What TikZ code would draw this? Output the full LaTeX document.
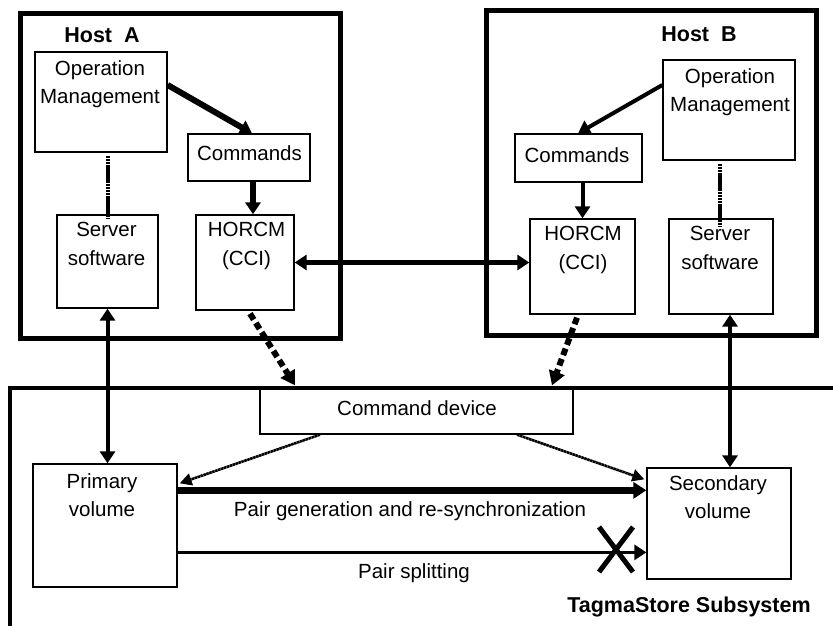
\documentclass[tikz,border=0pt]{standalone}
\usepackage{fontspec}
\setmainfont{Liberation Sans}
\usetikzlibrary{arrows.meta,calc}
\begin{document}
\begin{tikzpicture}[x=1pt,y=-1pt,
  box/.style={draw,line width=1.3pt,inner sep=0pt,rectangle},
  host/.style={draw,line width=5pt,inner sep=0pt,rectangle},
  txt/.style={inner sep=0pt,anchor=north,align=center,font={\fontsize{20.5}{28.5}\selectfont}},
  btxt/.style={inner sep=0pt,anchor=base,font={\fontsize{21.5}{24}\selectfont\bfseries}},
  arr/.style={line width=#1,-{Triangle[length=12pt,width=15pt]}},
  dbl/.style={line width=#1,{Triangle[length=12pt,width=15pt]}-{Triangle[length=12pt,width=15pt]}},
  dotline/.style={line width=4pt,dash pattern=on 2.6pt off 0.5pt},
  dasharr/.style={line width=6pt,dash pattern=on 7pt off 4pt,-{Triangle[length=14pt,width=16pt]}},
  dotarr/.style={line width=2.6pt,dash pattern=on 2.6pt off 0.5pt,-{Triangle[length=12pt,width=12pt]}}
]
\useasboundingbox (0,0) rectangle (833,626);

% hosts
\node[host,minimum width=320pt,minimum height=324pt] (hostA) at (180,176) {};
\node[host,minimum width=330pt,minimum height=324pt] (hostB) at (651,173) {};
\node[btxt] (hostAl) at (102,43) {Host~~A};
\node[btxt] (hostBl) at (699,42) {Host~~B};

% subsystem
\node[box,minimum width=313pt,minimum height=46pt] (cmdDev) at (416.5,411) {};
\coordinate (subBL) at (10,626);
\coordinate (subTL) at (10,388);
\coordinate (subTR) at (833,388);
\draw[line width=4pt] (subBL) -- (subTL) -- (subTR);
\node[btxt] (subl) at (689,612) {TagmaStore Subsystem};

% boxes
\node[box,minimum width=132pt,minimum height=100pt] (opA) at (101,102) {};
\node[box,minimum width=122pt,minimum height=47pt] (cmdA) at (249,157.5) {};
\node[box,minimum width=101pt,minimum height=93pt] (srvA) at (107.5,261.5) {};
\node[box,minimum width=98pt,minimum height=95pt] (hoA) at (245,262.5) {};
\node[box,minimum width=132pt,minimum height=100pt] (opB) at (729,110) {};
\node[box,minimum width=127pt,minimum height=48pt] (cmdB) at (578.5,158) {};
\node[box,minimum width=105pt,minimum height=95pt] (hoB) at (582.5,266.5) {};
\node[box,minimum width=104pt,minimum height=95pt] (srvB) at (721,266.5) {};
\node[box,minimum width=144pt,minimum height=123pt] (pv) at (105,525.5) {};
\node[box,minimum width=144pt,minimum height=111pt] (sv) at (719,523.5) {};

% texts
\node[txt] (opAt) at (100,60) {Operation\\Management};
\node[txt] (cmdAt) at (249.5,145) {Commands};
\node[txt] (srvAt) at (106.5,222) {Server\\software};
\node[txt] (hoAt) at (246.5,222) {HORCM\\(CCI)};
\node[txt] (opBt) at (730,68) {Operation\\Management};
\node[txt] (cmdBt) at (577,147) {Commands};
\node[txt] (hoBt) at (583,226) {HORCM\\(CCI)};
\node[txt] (srvBt) at (720,226) {Server\\software};
\node[txt] (pvt) at (102,473) {Primary\\volume};
\node[txt] (svt) at (718,475) {Secondary\\volume};
\node[txt] (cmdDevt) at (417,400) {Command device};
\node[txt] (pairgen) at (410,501) {Pair generation and re-synchronization};
\node[txt] (pairsplit) at (414,563) {Pair splitting};

% connectors in host A
\draw[arr=6pt] ([yshift=17pt]opA.east) -- ([xshift=3pt]cmdA.north);
\draw[arr=5.5pt] ([xshift=4pt]cmdA.south) -- ([xshift=4pt]cmdA.south |- hoA.north);
\draw[dotline] ([yshift=-3pt]srvA.north |- opA.south) -- ([yshift=-5pt]srvA.north);

% between hosts
\draw[dbl=5pt] (hoA.east) -- (hoA.east -| hoB.west);

% connectors in host B
\draw[arr=4pt] ([yshift=25pt]opB.west) -- ([xshift=-0.5pt]cmdB.north);
\draw[arr=4pt] (cmdB.south -| hoB.north) -- (hoB.north);
\draw[dotline] ([xshift=-1pt,yshift=-3pt]srvB.north |- opB.south) -- ([xshift=-1pt,yshift=-9pt]srvB.north);

% hosts to subsystem
\draw[dbl=4pt] (srvA.south) -- (srvA.south |- pv.north);
\draw[dbl=4pt] ([xshift=9pt]srvB.south) -- ([xshift=9pt]srvB.south |- sv.north);
\draw[dasharr] ([xshift=5pt,yshift=-3pt]hoA.south) -- ([xshift=-121.5pt,yshift=2pt]cmdDev.north);
\draw[dasharr] ([xshift=-5.5pt,yshift=-3pt]hoB.south) -- ([xshift=135.5pt,yshift=2pt]cmdDev.north);

% inside subsystem
\draw[dotarr] ([xshift=-96.5pt]cmdDev.south) -- ([xshift=2pt,yshift=-20pt]pv.north east);
\draw[dotarr] ([xshift=100.5pt]cmdDev.south) -- ([xshift=-2pt,yshift=-12pt]sv.north west);
\draw[line width=7pt,-{Triangle[length=13pt,width=16pt]}] ([yshift=-27pt]pv.north east) -- ([yshift=-27pt]pv.north east -| sv.west);
\draw[arr=3.5pt] ([yshift=-89pt]pv.north east) -- ([yshift=-89pt]pv.north east -| sv.west);

% X mark
\coordinate (xm) at (616,550);
\draw[line width=5pt] ($(xm)+(-17,-23)$) -- ($(xm)+(17,22)$);
\draw[line width=5pt] ($(xm)+(17,-23)$) -- ($(xm)+(-17,22)$);
\end{tikzpicture}
\end{document}
